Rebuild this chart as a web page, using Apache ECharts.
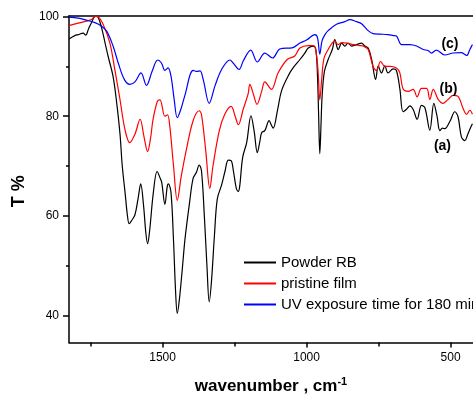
<!DOCTYPE html>
<html>
<head>
<meta charset="utf-8">
<script src="https://cdn.jsdelivr.net/npm/echarts@6/dist/echarts.min.js"></script>
<style>html,body{margin:0;padding:0;background:#fff}#c{width:473px;height:400px}</style>
</head>
<body>
<div id="c"></div>
<script>
// ---- data (wavenumber cm-1, transmittance %) ----
const seriesNames = ['Powder RB', 'pristine film', 'UV exposure time for 180 min'];
const curveLabels = ['(a)', '(b)', '(c)'];
const xTickLabels = [500, 1000, 1500];
const xMinorTicks = [750, 1250, 1750];
const yTickLabels = [40, 60, 80, 100];
const yMinorTicks = [50, 70, 90];

const powderWn = [1825,1805,1793,1776,1767,1757,1747,1733,1724,1712,1700,1689,1672,1660,1648,1640,1630,1622,1616,1608,1596,1585,1576,1566,1558,1552,1545,1532,1519,1508,1503,1492,1484,1480,1471,1462,1455,1449,1442,1432,1422,1406,1394,1382,1373,1365,1355,1346,1338,1330,1320,1310,1295,1283,1272,1262,1254,1244,1237,1232,1222,1208,1193,1182,1171,1162,1156,1145,1130,1122,1116,1100,1087,1064,1047,1023,1006,994,977,968,962,958,954,950,946,938,925,910,902,890,878,867,856,844,826,809,798,786,774,760,751,740,728,717,699,688,676,665,653,641,630,616,601,589,572,558,547,537,528,520,502,485,474,462,450,442,433,424];
const powderT  = [95.5,96.2,96.4,96.7,96.3,97.6,98.8,100.1,99.9,97.8,94.8,92.0,88.0,83.0,76.5,70.0,64.5,60.0,58.4,59.0,60.2,63.5,66.4,62.0,56.5,54.4,57.0,64.7,68.9,67.5,66.7,62.3,65.8,66.4,64.8,55.0,45.0,40.4,43.0,49.0,55.4,62.8,67.5,68.8,70.2,69.1,60.0,50.0,42.7,47.0,56.0,63.4,66.2,69.0,71.2,71.1,69.0,65.5,64.9,66.0,71.7,74.7,80.1,77.0,72.7,75.0,76.7,77.1,79.1,78.2,77.6,81.5,85.1,88.1,89.7,91.4,92.7,93.7,94.1,93.5,88.0,80.0,72.5,78.0,84.0,89.0,91.4,93.5,95.4,93.4,94.7,94.1,94.7,94.1,94.4,94.7,94.1,93.7,91.4,87.4,90.1,88.7,90.1,88.7,89.5,89.2,85.5,80.9,81.4,82.1,81.4,79.4,82.2,81.7,77.2,82.6,80.0,77.1,77.6,77.5,79.0,80.9,79.9,75.8,75.1,76.1,77.4,78.5];

const filmWn = [1825,1793,1765,1745,1735,1724,1706,1683,1666,1648,1631,1614,1596,1578,1565,1552,1542,1533,1518,1509,1492,1483,1475,1462,1449,1435,1417,1394,1373,1365,1350,1336,1325,1303,1284,1262,1248,1237,1220,1203,1197,1185,1172,1156,1145,1122,1099,1067,1041,1023,994,975,966,960,954,948,940,925,902,890,878,861,838,815,803,786,769,757,743,728,711,688,676,665,647,630,616,601,583,572,560,543,526,508,491,474,456,444,433,424];
const filmT  = [98.2,98.7,99.1,99.5,100.1,100.0,98.4,94.7,89.4,83.4,77.4,74.7,76.4,79.4,76.0,72.9,75.5,79.4,83.0,83.3,80.0,80.3,78.0,70.0,63.1,68.0,73.4,79.1,81.1,80.4,73.0,65.5,70.0,77.1,80.4,82.0,80.0,78.3,81.4,84.5,86.4,84.5,82.4,85.0,86.9,85.4,88.7,91.4,92.1,93.7,94.2,94.2,92.5,89.0,83.3,87.0,91.5,93.4,95.1,94.4,94.8,94.7,94.4,94.2,94.1,93.4,90.0,89.2,91.0,90.0,90.0,89.7,88.7,85.5,85.0,85.4,83.9,85.6,85.6,83.4,85.4,83.4,82.6,83.4,84.2,84.0,81.5,80.4,81.2,80.4];

const uvWn = [1825,1793,1765,1735,1712,1694,1672,1654,1633,1614,1596,1575,1556,1536,1517,1504,1492,1481,1471,1460,1449,1436,1423,1394,1382,1370,1359,1338,1318,1295,1266,1255,1234,1220,1194,1171,1145,1118,1093,1047,1023,1000,971,962,954,946,935,925,896,867,850,826,809,786,769,745,717,699,688,670,641,618,595,578,566,549,520,491,462,444,433,424];
const uvT  = [99.9,99.7,99.3,98.8,98.1,97.1,94.1,90.7,87.4,86.4,86.9,88.7,86.2,89.1,91.3,90.7,89.2,89.7,88.1,83.5,79.7,81.5,84.1,89.2,89.0,89.1,87.4,82.6,86.1,89.4,91.3,90.7,89.4,91.1,93.3,90.9,92.7,91.7,93.5,93.8,94.7,95.3,96.4,95.8,92.5,95.2,96.5,97.2,98.5,99.0,99.4,99.0,98.6,97.2,96.6,96.5,96.4,96.2,96.1,94.4,94.4,94.1,93.4,93.2,92.7,93.3,92.3,92.7,92.8,92.2,93.4,94.4];

// label anchor points (wavenumber, T)
const labelWn = [528, 507, 502];
const labelT  = [73.9, 85.4, 94.5];

const colors = ['#000000', '#ff0000', '#0000ff'];
const FONT = '"Liberation Sans", Arial, sans-serif';

function pairs(xs, ys) { return xs.map((x, i) => [x, ys[i]]); }
const dataSets = [pairs(powderWn, powderT), pairs(filmWn, filmT), pairs(uvWn, uvT)];

const X_MIN = 422, X_MAX = 1825, Y_MIN = 34.54, Y_MAX = 100.14;

const chart = echarts.init(document.getElementById('c'), null, {renderer: 'canvas'});
const baseX = {type: 'value', inverse: true, min: X_MIN, max: X_MAX, splitLine: {show: false}};
const baseY = {type: 'value', min: Y_MIN, max: Y_MAX, splitLine: {show: false}};
chart.setOption({
  animation: false,
  backgroundColor: '#fff',
  textStyle: {fontFamily: FONT},
  grid: {left: 69, right: 0, top: 16, bottom: 56, containLabel: false},
  legend: {
    orient: 'vertical', left: 243, top: 255, padding: 0,
    itemWidth: 32, itemHeight: 14, itemGap: 6,
    itemStyle: {opacity: 0},
    textStyle: {fontSize: 15, color: '#000', fontFamily: FONT, lineHeight: 14},
    data: seriesNames
  },
  xAxis: [
    Object.assign({}, baseX, {
      position: 'bottom',
      axisLine: {show: true, onZero: false, lineStyle: {color: '#000', width: 1.5}},
      axisTick: {show: true, customValues: xTickLabels, length: 5, lineStyle: {color: '#000', width: 1.5}},
      axisLabel: {show: true, customValues: xTickLabels, fontSize: 12, color: '#000', margin: 9, fontFamily: FONT, formatter: v => String(v)},
      name: '{a|wavenumber , cm}{s|-1}',
      nameLocation: 'middle', nameGap: 34,
      nameTextStyle: {
        rich: {
          a: {fontSize: 17, fontWeight: 'bold', color: '#000', fontFamily: FONT, lineHeight: 20},
          s: {fontSize: 11, fontWeight: 'bold', color: '#000', fontFamily: FONT, verticalAlign: 'top', lineHeight: 12}
        }
      }
    }),
    Object.assign({}, baseX, {
      position: 'bottom',
      axisLine: {show: false, onZero: false},
      axisTick: {show: true, customValues: xMinorTicks, length: 4, lineStyle: {color: '#000', width: 1.5}},
      axisLabel: {show: false}
    }),
    Object.assign({}, baseX, {
      position: 'top',
      axisLine: {show: true, onZero: false, lineStyle: {color: '#000', width: 1.5}},
      axisTick: {show: false},
      axisLabel: {show: false}
    })
  ],
  yAxis: [
    Object.assign({}, baseY, {
      position: 'left',
      axisLine: {show: true, onZero: false, lineStyle: {color: '#000', width: 1.5}},
      axisTick: {show: true, customValues: yTickLabels, length: 6, lineStyle: {color: '#000', width: 1.5}},
      axisLabel: {show: true, customValues: yTickLabels, fontSize: 12, color: '#000', margin: 10, fontFamily: FONT, formatter: v => String(v)},
      name: 'T %', nameLocation: 'middle', nameGap: 33,
      nameTextStyle: {fontSize: 18, fontWeight: 'bold', color: '#000', fontFamily: FONT, padding: [0, 24, 0, 0]}
    }),
    Object.assign({}, baseY, {
      position: 'left',
      axisLine: {show: false, onZero: false},
      axisTick: {show: true, customValues: yMinorTicks, length: 3, lineStyle: {color: '#000', width: 1.5}},
      axisLabel: {show: false}
    })
  ],
  series: dataSets.map((d, i) => ({
    name: seriesNames[i],
    type: 'line',
    xAxisIndex: 0, yAxisIndex: 0,
    data: d,
    symbol: 'none',
    smooth: 0.35,
    clip: true,
    lineStyle: {color: colors[i], width: 1.2},
    itemStyle: {color: colors[i]},
    markPoint: {
      silent: true,
      symbol: 'circle', symbolSize: 0,
      label: {show: true, position: 'inside', formatter: curveLabels[i], color: '#000', fontSize: 14, fontWeight: 'bold', fontFamily: FONT},
      data: [{coord: [labelWn[i], labelT[i]]}]
    }
  }))
});
</script>
</body>
</html>
